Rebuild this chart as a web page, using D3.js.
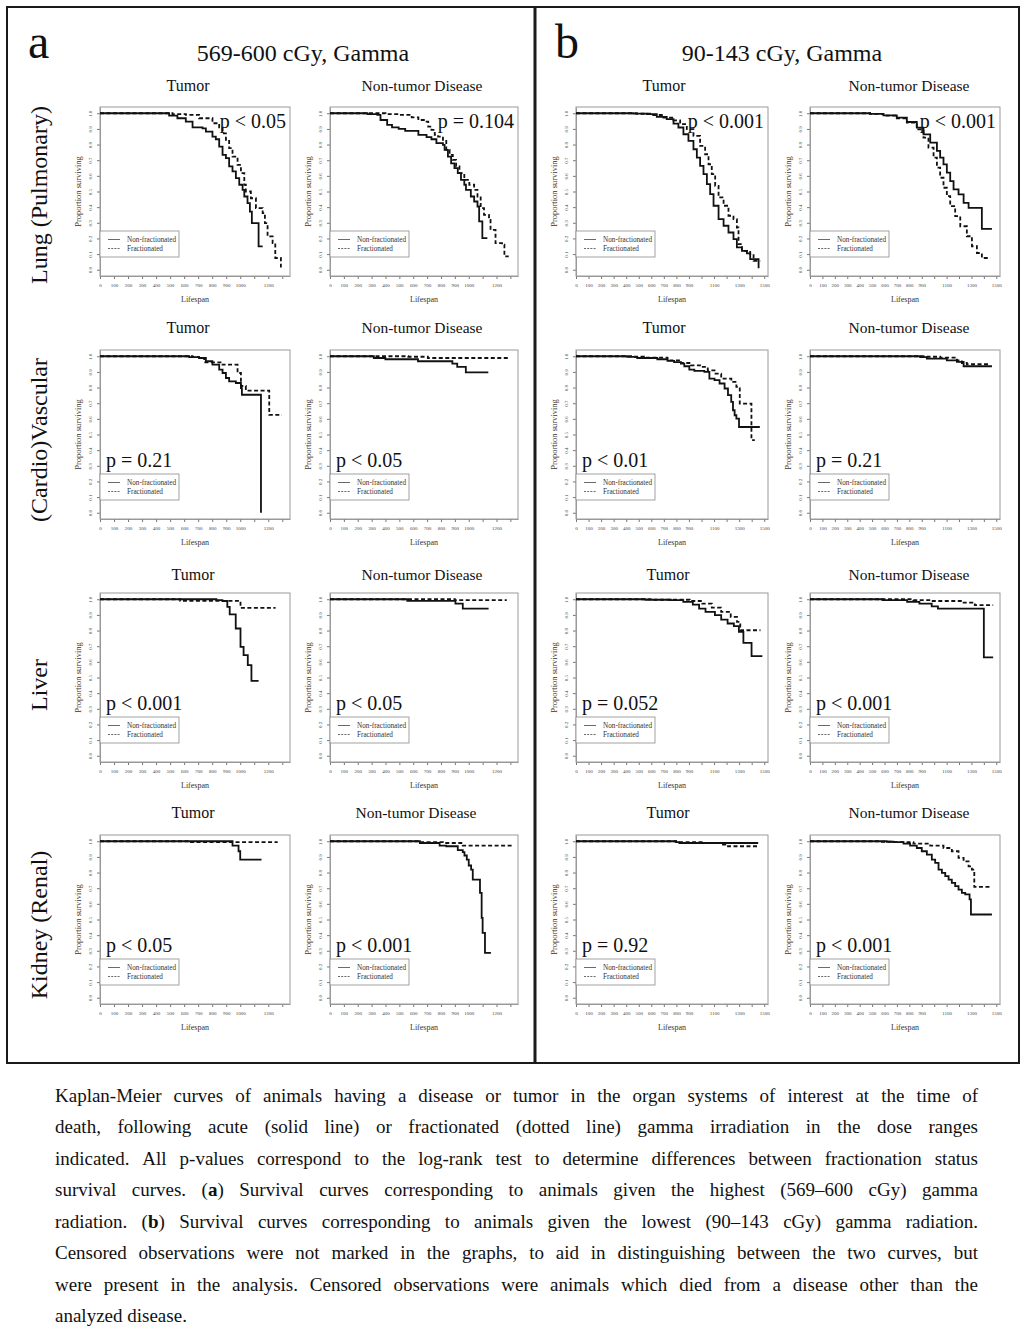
<!DOCTYPE html>
<html><head><meta charset="utf-8">
<script src="https://cdn.jsdelivr.net/npm/d3@7"></script>
<style>body{margin:0;background:#fff}svg{display:block}</style>
</head><body>
<svg id="c" width="1024" height="1331"></svg>
<script>
// ---------------- DATA ----------------
const groupTitles = ["569-600 cGy, Gamma", "90-143 cGy, Gamma"];
const groupLetters = ["a", "b"];
const rowLabels = ["Lung (Pulmonary)", "(Cardio)Vascular", "Liver", "Kidney (Renal)"];
const colTitles = ["Tumor", "Non-tumor Disease", "Tumor", "Non-tumor Disease"];
const legendLabels = ["Non-fractionated", "Fractionated"];
const xAxisTitle = "Lifespan";
const yAxisTitle = "Proportion surviving";

const xTicksA = [0,100,200,300,400,500,600,700,800,900,1000,1100,1200,1300];
const xTickLabelsA = ["0","100","200","300","400","500","600","700","800","900","1000","","1200",""];
const xTicksB = [0,100,200,300,400,500,600,700,800,900,1000,1100,1200,1300,1400,1500];
const xTickLabelsB = ["0","100","200","300","400","500","600","700","800","900","","1100","","1300","","1500"];
const yTicks = [0,0.1,0.2,0.3,0.4,0.5,0.6,0.7,0.8,0.9,1.0];
const yTickLabels = ["0.0","0.1","0.2","0.3","0.4","0.5","0.6","0.7","0.8","0.9","1.0"];

const pValues = [
  ["p < 0.05", "p = 0.104", "p < 0.001", "p < 0.001"],
  ["p = 0.21", "p < 0.05", "p < 0.01", "p = 0.21"],
  ["p < 0.001", "p < 0.05", "p = 0.052", "p < 0.001"],
  ["p < 0.05", "p < 0.001", "p = 0.92", "p < 0.001"]
];

// Kaplan-Meier step points [lifespan, proportion surviving]; NF = non-fractionated (solid), F = fractionated (dashed)
const aLungTumorNF = [[0,1],[493,0.985],[552,0.968],[612,0.947],[660,0.91],[731,0.904],[755,0.883],[802,0.851],[826,0.834],[850,0.787],[874,0.734],[898,0.713],[921,0.66],[945,0.628],[969,0.585],[993,0.543],[1017,0.51],[1029,0.468],[1052,0.426],[1069,0.372],[1083,0.298],[1131,0.149],[1160,0.149]];
const aLungTumorF = [[0,1],[517,0.995],[612,0.99],[707,0.968],[802,0.936],[850,0.91],[874,0.872],[898,0.83],[921,0.777],[945,0.723],[981,0.67],[1005,0.617],[1029,0.543],[1040,0.5],[1076,0.457],[1112,0.394],[1160,0.362],[1176,0.298],[1195,0.213],[1231,0.17],[1250,0.075],[1290,0.02],[1296,0.02]];
const aLungNonNF = [[0,1],[270,0.995],[341,0.99],[364,0.957],[412,0.926],[447,0.91],[495,0.9],[542,0.887],[637,0.862],[696,0.847],[731,0.834],[767,0.809],[814,0.798],[826,0.766],[850,0.723],[873,0.68],[897,0.649],[921,0.617],[944,0.574],[968,0.543],[980,0.51],[1015,0.468],[1039,0.436],[1063,0.404],[1075,0.309],[1098,0.202],[1134,0.202]];
const aLungNonF = [[0,1],[400,0.995],[495,0.99],[589,0.974],[637,0.957],[684,0.947],[708,0.915],[731,0.894],[755,0.862],[779,0.851],[814,0.83],[838,0.766],[862,0.734],[885,0.702],[909,0.66],[933,0.617],[968,0.574],[1004,0.543],[1039,0.511],[1063,0.468],[1086,0.394],[1110,0.351],[1146,0.319],[1157,0.255],[1193,0.17],[1240,0.16],[1257,0.085],[1288,0.085]];
const bLungTumorNF = [[0,1],[457,0.998],[564,0.994],[644,0.977],[723,0.962],[777,0.934],[816,0.909],[856,0.866],[896,0.823],[936,0.77],[963,0.717],[989,0.664],[1016,0.611],[1043,0.547],[1069,0.483],[1096,0.409],[1136,0.323],[1176,0.281],[1215,0.238],[1255,0.196],[1282,0.143],[1322,0.121],[1362,0.104],[1388,0.068],[1455,0.015],[1462,0.015]];
const bLungTumorF = [[0,1],[484,0.997],[590,0.989],[697,0.972],[777,0.955],[830,0.93],[883,0.898],[936,0.855],[989,0.791],[1029,0.738],[1056,0.674],[1082,0.611],[1109,0.536],[1136,0.462],[1176,0.409],[1215,0.345],[1255,0.323],[1282,0.27],[1295,0.164],[1322,0.121],[1388,0.1],[1415,0.057],[1468,0.057]];
const bLungNonNF = [[0,1],[484,0.996],[591,0.987],[699,0.972],[780,0.944],[860,0.908],[914,0.865],[968,0.812],[1022,0.759],[1048,0.716],[1075,0.673],[1102,0.62],[1129,0.566],[1156,0.513],[1196,0.481],[1237,0.427],[1277,0.395],[1384,0.261],[1465,0.261]];
const bLungNonF = [[0,1],[484,0.996],[591,0.985],[699,0.968],[780,0.94],[860,0.897],[914,0.844],[954,0.78],[995,0.716],[1022,0.652],[1048,0.588],[1075,0.524],[1102,0.47],[1129,0.406],[1169,0.342],[1210,0.278],[1263,0.214],[1304,0.15],[1344,0.107],[1384,0.075],[1452,0.075]];

const aCardioTumorNF = [[0,1],[636,0.995],[707,0.989],[755,0.968],[802,0.946],[850,0.914],[874,0.893],[898,0.861],[921,0.839],[969,0.829],[1005,0.797],[1012,0.754],[1148,0]];
const aCardioTumorF = [[0,1],[660,0.995],[707,0.989],[743,0.961],[874,0.946],[981,0.893],[1005,0.81],[1040,0.78],[1207,0.625],[1298,0.625]];
const aCardioNonNF = [[0,1],[316,0.989],[399,0.981],[634,0.968],[882,0.953],[917,0.932],[979,0.897],[1141,0.897]];
const aCardioNonF = [[0,1],[564,0.997],[705,0.989],[1283,0.989]];
const bCardioTumorNF = [[0,1],[407,0.996],[488,0.989],[648,0.981],[729,0.97],[782,0.962],[836,0.953],[863,0.936],[903,0.915],[943,0.906],[1023,0.9],[1063,0.857],[1104,0.847],[1144,0.826],[1184,0.794],[1211,0.751],[1237,0.708],[1251,0.655],[1264,0.623],[1278,0.601],[1299,0.548],[1465,0.548]];
const bCardioTumorF = [[0,1],[461,0.997],[541,0.991],[729,0.974],[836,0.957],[916,0.942],[996,0.932],[1050,0.91],[1104,0.889],[1157,0.857],[1238,0.836],[1278,0.804],[1305,0.697],[1398,0.464],[1425,0.464]];
const bCardioNonNF = [[0,1],[887,0.995],[941,0.985],[1102,0.974],[1183,0.964],[1237,0.936],[1465,0.936]];
const bCardioNonF = [[0,1],[941,0.997],[1048,0.991],[1183,0.974],[1223,0.957],[1263,0.949],[1452,0.949]];

const aLiverTumorNF = [[0,1],[830,0.995],[873,0.989],[908,0.951],[925,0.904],[968,0.813],[1002,0.696],[1024,0.643],[1054,0.579],[1080,0.479],[1131,0.479]];
const aLiverTumorF = [[0,1],[572,0.99],[1002,0.945],[1252,0.945]];
const aLiverNonNF = [[0,1],[557,0.99],[904,0.972],[957,0.94],[1143,0.94]];
const aLiverNonF = [[0,1],[900,0.995],[1274,0.995]];
const bLiverTumorNF = [[0,1],[554,0.997],[755,0.994],[855,0.983],[931,0.966],[981,0.94],[1032,0.919],[1107,0.898],[1157,0.87],[1208,0.845],[1258,0.828],[1298,0.791],[1334,0.721],[1399,0.636],[1485,0.636]];
const bLiverTumorF = [[0,1],[604,0.997],[906,0.989],[1007,0.972],[1082,0.947],[1157,0.919],[1233,0.887],[1283,0.855],[1309,0.802],[1470,0.802]];
const bLiverNonNF = [[0,1],[584,0.995],[782,0.983],[881,0.972],[980,0.955],[1030,0.94],[1400,0.628],[1475,0.628]];
const bLiverNonF = [[0,1],[832,0.995],[980,0.989],[1228,0.979],[1327,0.962],[1475,0.962]];

const aKidneyTumorNF = [[0,1],[945,0.972],[988,0.936],[1000,0.883],[1152,0.883]];
const aKidneyTumorF = [[0,1],[648,0.994],[1267,0.994]];
const aKidneyNonNF = [[0,1],[648,0.989],[790,0.972],[838,0.968],[921,0.943],[957,0.93],[969,0.909],[986,0.883],[1000,0.845],[1017,0.819],[1029,0.755],[1081,0.67],[1093,0.511],[1100,0.415],[1117,0.287],[1160,0.287]];
const aKidneyNonF = [[0,1],[648,0.994],[814,0.989],[957,0.972],[1314,0.972]];
const bKidneyTumorNF = [[0,1],[797,0.995],[824,0.989],[1452,0.989]];
const bKidneyTumorF = [[0,1],[797,0.997],[824,0.994],[1011,0.989],[1171,0.979],[1211,0.968],[1452,0.968]];
const bKidneyNonNF = [[0,1],[618,0.997],[672,0.994],[753,0.985],[806,0.972],[860,0.957],[900,0.936],[941,0.915],[981,0.883],[1008,0.862],[1035,0.819],[1062,0.798],[1089,0.777],[1116,0.755],[1142,0.734],[1169,0.713],[1196,0.691],[1223,0.67],[1250,0.66],[1285,0.628],[1296,0.532],[1465,0.532]];
const bKidneyNonF = [[0,1],[565,0.997],[672,0.994],[833,0.985],[968,0.972],[1075,0.957],[1142,0.936],[1196,0.894],[1237,0.872],[1277,0.84],[1304,0.819],[1323,0.709],[1465,0.709]];

const captionLines = [
  "Kaplan-Meier curves of animals having a disease or tumor in the organ systems of interest at the time of",
  "death, following acute (solid line) or fractionated (dotted line) gamma irradiation in the dose ranges",
  "indicated. All p-values correspond to the log-rank test to determine differences between fractionation status",
  "survival curves. (**a**) Survival curves corresponding to animals given the highest (569–600 cGy) gamma",
  "radiation. (**b**) Survival curves corresponding to animals given the lowest (90–143 cGy) gamma radiation.",
  "Censored observations were not marked in the graphs, to aid in distinguishing between the two curves, but",
  "were present in the analysis. Censored observations were animals which died from a disease other than the",
  "analyzed disease."
];

// ---------------- LAYOUT ----------------
const FONT = '"Liberation Serif","Times New Roman",Times,serif';
const curveGrid = [
  [[aLungTumorNF,aLungTumorF],[aLungNonNF,aLungNonF],[bLungTumorNF,bLungTumorF],[bLungNonNF,bLungNonF]],
  [[aCardioTumorNF,aCardioTumorF],[aCardioNonNF,aCardioNonF],[bCardioTumorNF,bCardioTumorF],[bCardioNonNF,bCardioNonF]],
  [[aLiverTumorNF,aLiverTumorF],[aLiverNonNF,aLiverNonF],[bLiverTumorNF,bLiverTumorF],[bLiverNonNF,bLiverNonF]],
  [[aKidneyTumorNF,aKidneyTumorF],[aKidneyNonNF,aKidneyNonF],[bKidneyTumorNF,bKidneyTumorF],[bKidneyNonNF,bKidneyNonF]]
];
const colLeft = [100, 330, 576, 810];
const colWidth = [190, 188, 192, 190];
const rowTop = [107, 350, 593, 835];
const boxH = 169;
const xMax = [1355, 1355, 1530, 1530];
const titleBase = [91, 333, 580, 818];
const titleX = [[188,422,664,909],[188,422,664,909],[193,422,668,909],[193,416,668,909]];
const rowLabelY = [195, 440, 685, 925];

const svg = d3.select("#c");
svg.append("rect").attr("width",1024).attr("height",1331).attr("fill","#fff");

// frame
svg.append("rect").attr("x",7).attr("y",7).attr("width",1012).attr("height",1056)
  .attr("fill","none").attr("stroke","#1a1a1a").attr("stroke-width",2);
svg.append("line").attr("x1",535).attr("x2",535).attr("y1",7).attr("y2",1063)
  .attr("stroke","#1a1a1a").attr("stroke-width",3);

// group letters and titles
const letterX = [28, 555];
const titleCx = [303, 782];
groupLetters.forEach((L,i)=>{
  svg.append("text").attr("x",letterX[i]).attr("y",58).attr("font-family",FONT)
    .attr("font-size",48).attr("fill","#111").text(L);
  svg.append("text").attr("x",titleCx[i]).attr("y",61).attr("text-anchor","middle")
    .attr("font-family",FONT).attr("font-size",24).attr("fill","#111").text(groupTitles[i]);
});

// row labels
rowLabels.forEach((lab,r)=>{
  svg.append("text").attr("transform",`translate(47,${rowLabelY[r]}) rotate(-90)`)
    .attr("text-anchor","middle").attr("font-family",FONT).attr("font-size",24)
    .attr("fill","#111").text(lab);
});

const line = (x,y)=>d3.line().x(d=>x(d[0])).y(d=>y(d[1])).curve(d3.curveStepAfter);

for (let r=0;r<4;r++){
  for (let c=0;c<4;c++){
    const left=colLeft[c], w=colWidth[c], top=rowTop[r], h=boxH, bottom=top+h;
    const isA = c<2;
    const x = d3.scaleLinear().domain([0,xMax[c]]).range([left,left+w]);
    const y = d3.scaleLinear().domain([-0.04,1.04]).range([bottom,top]);
    const g = svg.append("g");

    // column title
    g.append("text").attr("x",titleX[r][c]).attr("y",titleBase[r]).attr("text-anchor","middle")
      .attr("font-family",FONT).attr("font-size",c%2===0?16:15.5).attr("fill","#111").text(colTitles[c]);

    // x axis
    const ticks = isA ? xTicksA : xTicksB;
    const labs = isA ? xTickLabelsA : xTickLabelsB;
    const gx = g.append("g").attr("transform",`translate(0,${bottom})`)
      .call(d3.axisBottom(x).tickValues(ticks).tickSize(3).tickSizeOuter(0).tickPadding(4)
        .tickFormat((d,i)=>labs[i]));
    gx.attr("font-family",FONT).attr("font-size",5);
    gx.select(".domain").attr("stroke","#999");
    gx.selectAll(".tick line").attr("stroke","#777");
    gx.selectAll(".tick text").attr("fill","#444");

    // y axis
    const gy = g.append("g").attr("transform",`translate(${left},0)`)
      .call(d3.axisLeft(y).tickValues(yTicks).tickSize(3).tickSizeOuter(0)
        .tickFormat((d,i)=>yTickLabels[i]));
    gy.attr("font-family",FONT).attr("font-size",5);
    gy.select(".domain").attr("stroke","#999");
    gy.selectAll(".tick line").attr("stroke","#777");
    gy.selectAll(".tick text").attr("x",null).attr("dy",null).attr("text-anchor","middle")
      .attr("transform","translate(-8.5,0) rotate(-90)").attr("fill","#444");

    // box
    g.append("rect").attr("x",left).attr("y",top).attr("width",w).attr("height",h)
      .attr("fill","none").attr("stroke","#9a9a9a").attr("stroke-width",1);

    // axis titles
    g.append("text").attr("x",left+w/2).attr("y",bottom+26).attr("text-anchor","middle")
      .attr("font-family",FONT).attr("font-size",8).attr("fill","#333").text(xAxisTitle);
    g.append("text").attr("transform",`translate(${left-19},${top+h/2}) rotate(-90)`)
      .attr("text-anchor","middle").attr("font-family",FONT).attr("font-size",8.5)
      .attr("fill","#333").text(yAxisTitle);

    // curves
    const [nf, fr] = curveGrid[r][c];
    g.append("path").datum(fr).attr("d",line(x,y)).attr("fill","none")
      .attr("stroke","#111").attr("stroke-width",1.8).attr("stroke-dasharray","4,2.5");
    g.append("path").datum(nf).attr("d",line(x,y)).attr("fill","none")
      .attr("stroke","#111").attr("stroke-width",1.8);

    // legend
    const lg = g.append("g").attr("transform",`translate(${left},${bottom-45})`);
    lg.append("rect").attr("width",79).attr("height",26).attr("fill","#fff")
      .attr("stroke","#8a8a8a").attr("stroke-width",0.8);
    legendLabels.forEach((lab,i)=>{
      const ly = 8.5 + i*9;
      lg.append("line").attr("x1",8).attr("x2",20).attr("y1",ly).attr("y2",ly)
        .attr("stroke","#444").attr("stroke-width",0.8).attr("stroke-dasharray",i?"2,1.2":null);
      lg.append("text").attr("x",27).attr("y",ly+2.4).attr("font-family",FONT)
        .attr("font-size",7.2).attr("fill","#333").text(lab);
    });

    // p-value
    const pt = g.append("text").attr("font-family",FONT).attr("font-size",20).attr("fill","#111")
      .text(pValues[r][c]);
    if (r===0) pt.attr("x",left+w-4).attr("y",top+21).attr("text-anchor","end");
    else pt.attr("x",left+6).attr("y",bottom-52);
  }
}

// caption (justified)
const capLeft=55, capRight=978, capTop=1102, capLH=31.43, capFont=19;
captionLines.forEach((ln,i)=>{
  const yb = capTop + i*capLH;
  const words = ln.split(" ");
  const g = svg.append("g");
  const nodes = words.map(wd=>{
    const t = g.append("text").attr("y",yb).attr("font-size",capFont)
      .attr("font-family",FONT).attr("fill","#111");
    wd.split(/(\*\*[^*]+\*\*)/).filter(s=>s.length).forEach(s=>{
      if (s.startsWith("**")) t.append("tspan").attr("font-weight","bold").text(s.slice(2,-2));
      else t.append("tspan").text(s);
    });
    return t;
  });
  const widths = nodes.map(n=>n.node().getComputedTextLength());
  const total = d3.sum(widths);
  const justify = i < captionLines.length-1;
  const gap = justify ? (capRight-capLeft-total)/(words.length-1) : capFont*0.25;
  let xx = capLeft;
  nodes.forEach((n,k)=>{ n.attr("x",xx); xx += widths[k]+gap; });
});
</script>
</body></html>
